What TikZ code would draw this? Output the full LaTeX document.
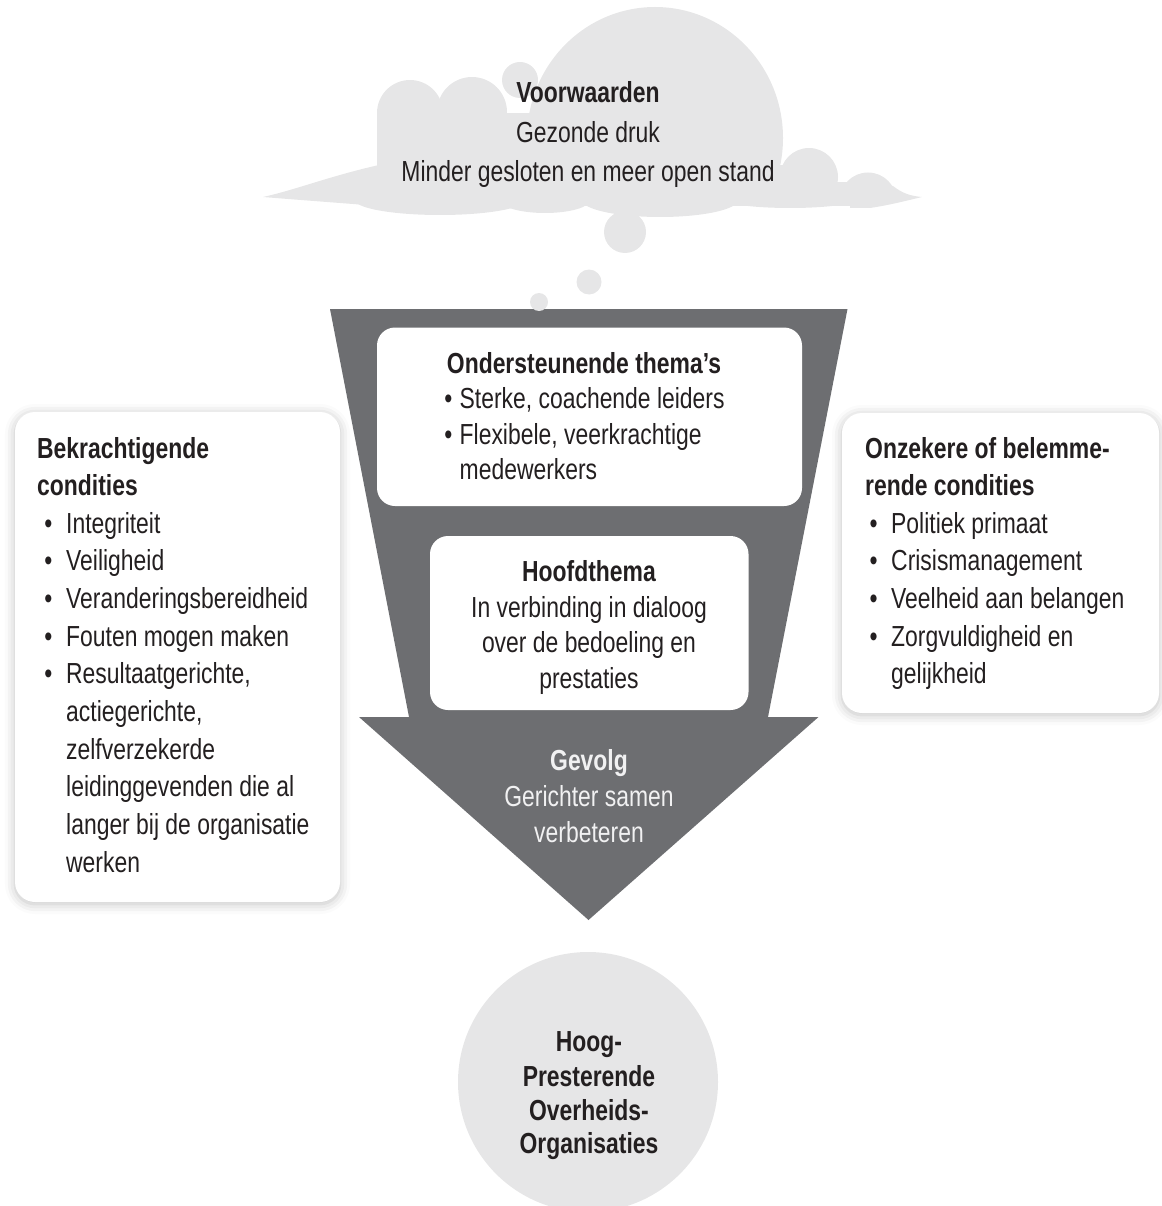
\documentclass[tikz,border=0pt]{standalone}
\usepackage{fontspec}
\setmainfont{Liberation Sans}[FakeStretch=0.79]
\usetikzlibrary{shadows.blur}
\definecolor{funnelgray}{HTML}{6D6E71}
\definecolor{cloudgray}{HTML}{E6E6E7}
\definecolor{ink}{HTML}{231F20}
\definecolor{lighttext}{HTML}{F1F1F2}
\begin{document}
\begin{tikzpicture}[x=1pt,y=-1pt,
  txt/.style={inner sep=0pt, anchor=base west, text=ink, font=\fontsize{29}{35}\selectfont},
  ctxt/.style={txt, anchor=base},
  bul/.style={txt, anchor=base},
  sidebox/.style={fill=white, rounded corners=20pt,
    blur shadow={shadow xshift=0pt, shadow yshift=-2pt, shadow blur radius=10pt, shadow opacity=25}},
  innerbox/.style={fill=white, rounded corners=18pt},
  cloudfill/.style={fill=cloudgray}
]
\useasboundingbox (0,0) rectangle (1161,1206);

% side boxes
\path[sidebox] (15,412) rectangle (340,902);
\path[sidebox] (842,413) rectangle (1159,713);

% cloud
\begin{scope}
  \clip (250,0) rectangle (930,206);
  \fill[cloudfill] (655,138) ellipse [x radius=128, y radius=131];
  \fill[cloudfill] (410,113) circle (33);
  \fill[cloudfill] (472,112) circle (35);
  \fill[cloudfill] (520,80) circle (18);
  \fill[cloudfill] (809,177) circle (29);
  \fill[cloudfill] (377,113) rectangle (760,206);
  \fill[cloudfill] (740,165) rectangle (800,206);
  \fill[cloudfill] (800,182) rectangle (870,206);
\end{scope}
\fill[cloudfill] (839.5,201) arc[start angle=180, end angle=360, radius=28.5] -- cycle;
\fill[cloudfill] (440,200) ellipse [x radius=85, y radius=15];
\fill[cloudfill] (545,200) ellipse [x radius=45, y radius=13];
\fill[cloudfill] (660,200) ellipse [x radius=78, y radius=17];
\fill[cloudfill] (790,198) ellipse [x radius=70, y radius=10];
\fill[cloudfill] (625,232) circle (21);
\fill[cloudfill] (379,165) .. controls (330,176) and (295,190) .. (263,197)
   .. controls (300,200) and (340,203) .. (379,206) -- cycle;
\fill[cloudfill] (893,186) .. controls (902,193) and (910,196) .. (922,197)
   .. controls (905,201) and (890,205) .. (870,208) -- (850,208) -- (850,186) -- cycle;

% funnel arrow
\fill[funnelgray] (330,309) -- (847.5,309) -- (768,717) -- (818.5,717) -- (588.5,920)
   -- (359,717) -- (409,717) -- cycle;

% thought bubbles
\fill[cloudfill] (589,282) circle (12.5);
\fill[cloudfill] (539,302) circle (9);

% inner boxes
\path[innerbox] (377,327.5) rectangle (802,506);
\path[innerbox] (430,536) rectangle (748.5,710);

% goal circle
\fill[cloudfill] (588,1082) circle (130);

% cloud text
\node[ctxt] (c1) at (588,103) {\textbf{Voorwaarden}};
\node[ctxt] (c2) at (588,142.5) {Gezonde druk};
\node[ctxt] (c3) at (588,182) {Minder gesloten en meer open stand};

% supporting themes
\node[ctxt] (o1) at (584,373) {\textbf{Ondersteunende thema’s}};
\node[bul] (ob1) at (448.5,408.75) {•};
\node[txt] (o2) at (459.5,408.75) {Sterke, coachende leiders};
\node[bul] (ob2) at (448.5,444.25) {•};
\node[txt] (o3) at (459.5,444.25) {Flexibele, veerkrachtige};
\node[txt] (o4) at (459.5,479.75) {medewerkers};

% main theme
\node[ctxt] (h1) at (589,581.7) {\textbf{Hoofdthema}};
\node[ctxt] (h2) at (589,617.2) {In verbinding in dialoog};
\node[ctxt] (h3) at (589,652.7) {over de bedoeling en};
\node[ctxt] (h4) at (589,688.2) {prestaties};

% consequence
\node[ctxt, text=lighttext] (g1) at (589,770) {\textbf{Gevolg}};
\node[ctxt, text=lighttext] (g2) at (589,806) {Gerichter samen};
\node[ctxt, text=lighttext] (g3) at (589,842) {verbeteren};

% left box
\node[txt] (l1) at (37,458) {\textbf{Bekrachtigende}};
\node[txt] (l2) at (37,495.7) {\textbf{condities}};
\foreach \ty/\tt [count=\i] in {533/Integriteit, 570.7/Veiligheid, 608.4/Veranderingsbereidheid,
   646.1/Fouten mogen maken, 683.8/{Resultaatgerichte,}} {
  \node[bul] (lb\i) at (48.5,\ty) {•};
  \node[txt] (li\i) at (66,\ty) {\tt};
}
\foreach \ty/\tt [count=\i] in {721.5/{actiegerichte,}, 759.2/zelfverzekerde,
   796.9/leidinggevenden die al, 834.6/langer bij de organisatie, 872.3/werken} {
  \node[txt] (lc\i) at (66,\ty) {\tt};
}

% right box
\node[txt] (r1) at (865,458) {\textbf{Onzekere of belemme-}};
\node[txt] (r2) at (865,495.7) {\textbf{rende condities}};
\foreach \ty/\tt [count=\i] in {533/Politiek primaat, 570.7/Crisismanagement,
   608.4/Veelheid aan belangen, 646.1/Zorgvuldigheid en} {
  \node[bul] (rb\i) at (873.5,\ty) {•};
  \node[txt] (ri\i) at (891,\ty) {\tt};
}
\node[txt] (rc1) at (891,683.8) {gelijkheid};

% circle text
\node[ctxt] (k1) at (589,1051.7) {\textbf{Hoog-}};
\node[ctxt] (k2) at (589,1086) {\textbf{Presterende}};
\node[ctxt] (k3) at (589,1120) {\textbf{Overheids-}};
\node[ctxt] (k4) at (589,1153.5) {\textbf{Organisaties}};
\end{tikzpicture}
\end{document}
